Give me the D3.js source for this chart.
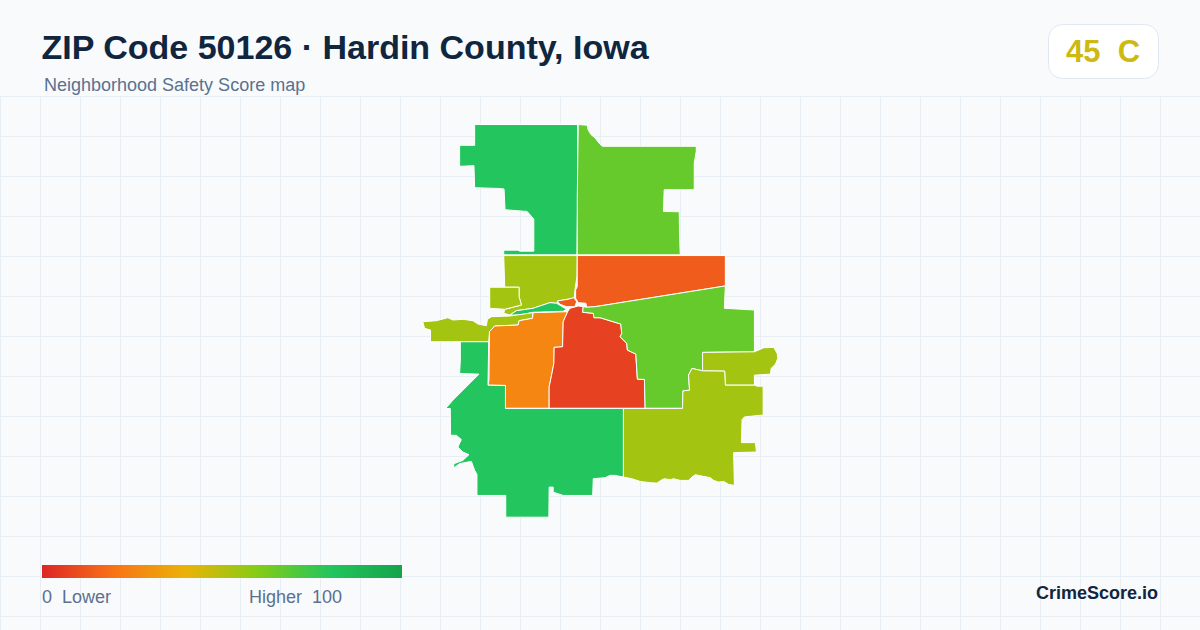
<!DOCTYPE html>
<meta charset="utf-8">
<script src="https://d3js.org/d3.v7.min.js"></script>
<style>
  html, body { margin: 0; padding: 0; background: #f8fafc; }
  svg { display: block; }
  text { font-family: "Liberation Sans", Arial, sans-serif; white-space: pre; }
</style>
<body>
<svg id="chart" width="1200" height="630"></svg>
<script>
// zone scores
const zoneNames = ["north", "northEast", "northCentral", "westSquare", "river", "westArm", "townWest", "townSouth", "eastBand", "townCore", "east", "eastLobe", "southEast", "southWest"];
const zoneScores = [80, 66, 54, 54, 80, 54, 26, 7, 14, 14, 66, 54, 54, 80];

// zone outlines in map units
const north = [[55,15],[157.7,15],[157.7,90],[157,145],[84,145],[84,140.3],[98,140.3],[100,141.3],[114,141.3],[114,109.3],[107.3,101.7],[85.3,100],[84.3,79.3],[77.3,78.7],[55,78],[54.3,56],[40,56.7],[40,35.7],[55,35.7]];
const northEast = [[159,15],[167.3,15.7],[168,20],[171,25],[175,28.3],[179,33.5],[182.3,36.7],[276,36.7],[276,41.7],[274,53.3],[274,80],[244,80],[243.3,101.7],[259,102],[259.3,123.3],[260,145],[157.3,145],[157.3,90],[158.3,15]];
const northCentral = [[84,145.7],[157.3,145.7],[157,166.7],[155,180],[154.3,188],[138.3,191],[136.7,193.3],[130,192.7],[113.3,198.3],[96.7,200.7],[90,205],[84,203.3],[85,199.3],[101.7,195],[99.3,186.7],[99.3,177.3],[85,177.3]];
const westSquare = [[70,177.3],[99.3,177.3],[99.3,186.7],[101.7,195],[85,199.3],[70,198.3]];
const river = [[90,205],[96.7,200.7],[113.3,198.3],[130,192.7],[136.7,193.3],[146.7,199.3],[143.3,201.3],[113.3,202.3],[108.3,203.3],[100,205]];
const westArm = [[3.3,211.7],[16.7,210.7],[28.3,207.7],[33.3,210],[43.3,209.3],[53.3,210.7],[58.3,214],[66.7,215.7],[67.7,209.3],[71.7,206.7],[90,206],[113.3,202.7],[112.7,208.3],[99.3,210.7],[98.3,215],[75,216],[70,221.7],[69,231.7],[41.7,231.7],[11,231.7],[11,220],[5,218.3]];
const townWest = [[75,216],[98.3,215],[99.3,210.7],[112.7,208.3],[113.3,202.7],[147.7,201.7],[143.3,211.7],[142.7,236.7],[134.3,237.3],[134,253.3],[131.7,265],[129.3,276.7],[129.3,298],[85.7,298],[85.7,275.3],[68.3,275],[69.3,270],[69.7,221.7]];
const townSouth = [[129.3,298],[129.3,276.7],[131.7,265],[134,253.3],[134.3,237.3],[142.7,236.7],[143.3,211.7],[147.7,201.7],[150,198.3],[158.3,196],[163.3,196.7],[162.7,202.3],[173.3,203.3],[174,207.7],[180,207.7],[200.7,214],[201.7,223.3],[200,226.7],[206.7,233.3],[207.3,240],[215.7,244],[217.3,269],[224.3,269.3],[225,298]];
const eastBand = [[157.3,145.7],[305,145.7],[305,176],[175,196.7],[166.7,197.3],[166,193.3],[158.3,192.7],[155.7,188.3],[155.7,180],[157.3,176.7]];
const townCore = [[137.3,191],[148.3,189.3],[154,187.7],[156.7,191.7],[155,196.7],[146.7,196.7],[140,194.3]];
const east = [[166.7,197.3],[175,196.7],[305,176],[304,198.3],[334,200],[334,241.7],[282.3,242.3],[282.3,260.7],[271.7,258.3],[268.3,265],[269.3,280],[262.7,280.7],[262.3,298],[225,298],[224.3,269.3],[217.3,269],[215.7,244],[207.3,240],[206.7,233.3],[200,226.7],[201.7,223.3],[200.7,214],[180,207.7],[174,207.7],[173.3,203.3],[162.7,202.3],[163.3,196.7]];
const eastLobe = [[282.3,242.3],[334,241.7],[343.3,237.7],[353.3,237.3],[356.7,243.3],[357.3,248.3],[355,254],[350.7,258.3],[350,264],[334,265],[334,275],[305,275],[304.3,261],[282.3,260.7]];
const southEast = [[203.3,298.3],[262.3,298.3],[262.7,280.7],[269.3,280],[268.3,265],[271.7,258.3],[282.3,260.7],[304.3,261],[305,275],[334,275],[336.7,276],[342.7,276],[342.7,305],[340,305],[324,306.7],[321.7,309.3],[321,332.3],[335,332.3],[336,341.7],[313.3,342.3],[314,375],[308.3,374],[303.3,371],[298.3,371.7],[293.3,370],[290,367.3],[281.7,365.7],[275,364.3],[271.7,366.7],[268.3,370],[260,370],[253.3,368.3],[250,369.3],[244,368.3],[240.7,370],[236.7,372.7],[230,372.3],[220,371],[211.7,368.3],[203.3,366.7]];
const southWest = [[40.7,231.7],[69,231.7],[68.3,275],[85.7,275.3],[85.7,298.3],[203.3,298.3],[203.3,366.7],[195,365],[190,365],[185,367.3],[173.3,368.3],[172.7,385],[143.3,385],[133.3,381.7],[133.3,376.7],[129.3,376.7],[129,406.7],[86,406.7],[86,385],[57.3,385],[57.3,364],[55,360],[51.7,351],[40,353.3],[34,357.7],[34.3,353.3],[43.3,350],[49.3,344.3],[43.3,341.7],[38.3,336.7],[41.7,329.3],[36.7,325],[31,325],[30.7,298.3],[26,298.3],[33.3,290],[59.3,264],[40,263.3],[40.7,250]];
const zoneOutlines = [north, northEast, northCentral, westSquare, river, westArm, townWest, townSouth, eastBand, townCore, east, eastLobe, southEast, southWest];

// colour ramp of the legend
const rampStops = [0, 20, 40, 60, 80, 100];
const rampColors = ["#dc2626", "#f97316", "#eab308", "#84cc16", "#22c55e", "#16a34a"];

const svg = d3.select("#chart"),
    width = +svg.attr("width"),
    height = +svg.attr("height");

svg.append("rect").attr("width", width).attr("height", height).attr("fill", "#f8fafc");

// background grid
const grid = svg.append("g").attr("stroke", "#e8eff4").attr("stroke-width", 1);
grid.selectAll("line.v")
  .data(d3.range(0, width, 40))
  .join("line")
    .attr("class", "v")
    .attr("x1", d => d + 0.5).attr("x2", d => d + 0.5)
    .attr("y1", 96).attr("y2", height);
grid.selectAll("line.h")
  .data(d3.range(96, height, 40))
  .join("line")
    .attr("class", "h")
    .attr("x1", 0).attr("x2", width)
    .attr("y1", d => d + 0.5).attr("y2", d => d + 0.5);

// map units to the page
const x = d3.scaleLinear().domain([0, 360]).range([419.5, 780.5]);
const y = d3.scaleLinear().domain([0, 410]).range([109.5, 520.5]);
const color = d3.scaleLinear().domain(rampStops).range(rampColors);

const path = d3.geoPath().projection(d3.geoTransform({
  point: function(px, py) { this.stream.point(x(px), y(py)); }
}));

const zones = zoneNames.map((name, i) => ({
  type: "Feature",
  properties: { name: name, score: zoneScores[i] },
  geometry: { type: "Polygon", coordinates: [zoneOutlines[i].concat([zoneOutlines[i][0]])] }
}));

svg.append("g")
  .selectAll("path")
  .data(zones)
  .join("path")
    .attr("d", path)
    .attr("fill", d => color(d.properties.score))
    .attr("stroke", "#fff")
    .attr("stroke-width", 1)
    .attr("stroke-linejoin", "round");

// header
svg.append("text").attr("x", 41.5).attr("y", 59)
  .attr("font-size", 34).attr("font-weight", 700).attr("fill", "#10263f")
  .text("ZIP Code 50126 · Hardin County, Iowa");
svg.append("text").attr("x", 44).attr("y", 91)
  .attr("font-size", 18).attr("fill", "#5a7190")
  .text("Neighborhood Safety Score map");

// score badge
svg.append("rect")
  .attr("x", 1048.5).attr("y", 24.5).attr("width", 110).attr("height", 54).attr("rx", 14)
  .attr("fill", "#fff").attr("stroke", "#e2e8f0");
svg.append("text").attr("x", 1103).attr("y", 62)
  .attr("text-anchor", "middle").attr("font-size", 31).attr("font-weight", 700).attr("fill", "#cdb912")
  .text("45  C");

// legend
const legendX = d3.scaleLinear().domain([0, 100]).range([42, 402]);
const gradient = svg.append("defs").append("linearGradient").attr("id", "ramp");
gradient.selectAll("stop")
  .data(rampStops)
  .join("stop")
    .attr("offset", d => d + "%")
    .attr("stop-color", d => color(d));
svg.append("rect")
  .attr("x", legendX(0)).attr("y", 565)
  .attr("width", legendX(100) - legendX(0)).attr("height", 13)
  .attr("fill", "url(#ramp)");
svg.append("text").attr("x", 42).attr("y", 603)
  .attr("font-size", 18).attr("fill", "#5a7190")
  .text("0  Lower");
svg.append("text").attr("x", 342).attr("y", 603)
  .attr("text-anchor", "end").attr("font-size", 18).attr("fill", "#5a7190")
  .text("Higher  100");

svg.append("text").attr("x", 1158).attr("y", 599)
  .attr("text-anchor", "end").attr("font-size", 18).attr("font-weight", 700).attr("fill", "#10263f")
  .text("CrimeScore.io");
</script>
</body>
